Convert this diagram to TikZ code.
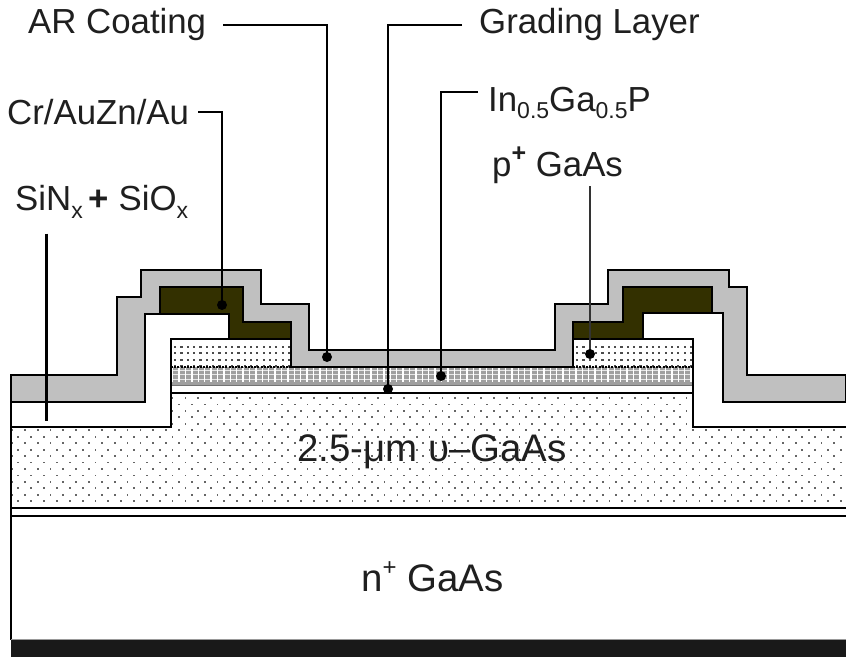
\documentclass[tikz,border=0pt]{standalone}
\usepackage{fontspec}
\setmainfont{Liberation Sans}
\newcommand{\lowtxt}[1]{\raisebox{-0.22em}{\fontsize{23}{25}\selectfont #1}}
\newcommand{\hightxt}[1]{\raisebox{0.42em}{\fontsize{25}{25}\selectfont\bfseries #1}}
\definecolor{metal}{HTML}{333000}
\definecolor{coat}{HTML}{C0C0C0}
\tikzset{
  outline/.style={draw=black,line width=1.8pt,line join=miter},
  coatfill/.style={outline,fill=coat},
  metalfill/.style={outline,fill=metal},
  lab/.style={inner sep=0pt,anchor=west,font=\fontsize{34.8}{38}\selectfont,text=black!88},
  biglab/.style={lab,font=\fontsize{38.4}{42}\selectfont},
  leader/.style={draw=black,line width=2.4pt},
  thinleader/.style={draw=black!80,line width=1.2pt},
  tipdot/.style={fill=black,draw=none}
}
\begin{document}
\begin{tikzpicture}[x=1pt,y=-1pt]
\useasboundingbox[fill=white] (0,0) rectangle (846,658);
% coordinates of the leader ends
\coordinate (arDot) at (327,357);
\coordinate (gradDot) at (388,389);
\coordinate (inDot) at (441,376);
\coordinate (crDot) at (222,305);
\coordinate (sinEnd) at (46.5,421);
\coordinate (pDot) at (590,354);

% substrate
\fill[white] (11,393) rectangle (846,640);
% dotted u-GaAs
\begin{scope}
  \clip (171,393) -- (693,393) -- (693,427) -- (846,427) -- (846,508) -- (11,508) -- (11,427) -- (171,427) -- cycle;
  \foreach \r in {0,...,18} {
    \pgfmathsetmacro{\yy}{398+6.45*\r}
    \pgfmathsetmacro{\off}{mod(\r,2)*6.4}
    \foreach \c in {0,...,65} {
      \pgfmathsetmacro{\xx}{5.5+\off+12.85*\c}
      \fill[black!60] (\xx-0.9,\yy-0.9) rectangle (\xx+0.9,\yy+0.9);
    }
  }
\end{scope}
\draw[black,line width=1.6pt] (171,393) -- (693,393);
\draw[black,line width=1.6pt] (11,508) -- (846,508);
\draw[black,line width=1.6pt] (11,516) -- (846,516);
\draw[black,line width=1.8pt] (11,427) -- (11,640);
\fill[black!90] (11,640) rectangle (846,657);
\draw[black!40,line width=1pt] (11,639.5) -- (846,639.5);

% grading layer band (hatch)
\fill[gray!75] (171,367) rectangle (693,385);
\begin{scope}
  \clip (171,368) rectangle (693,382);
  \foreach \c in {0,...,81} {
    \fill[white] (172+6.4*\c,367) rectangle (173.4+6.4*\c,382);
  }
  \foreach \r in {0,1,2} {
    \fill[white,opacity=.75] (171,370+4.4*\r) rectangle (693,371+4.4*\r);
  }
\end{scope}
\draw[black!55,line width=1pt] (171,385) -- (693,385);

% p+ GaAs caps
\foreach \xs in {171,573} {
  \fill[white] (\xs,339) rectangle (\xs+120,367);
  \foreach \r in {0,1,2,3} {
    \foreach \c in {0,...,18} {
      \fill[black!70] (\xs+3+6.33*\c,346+6.4*\r) rectangle (\xs+5.2+6.33*\c,347.8+6.4*\r);
    }
  }
}
\draw[black,line width=1.2pt,dash pattern=on 2pt off 1.2pt] (171,367) -- (291,367);
\draw[black,line width=1.2pt,dash pattern=on 2pt off 1.2pt] (573,367) -- (693,367);

% SiN/SiO left and right
\path[outline,fill=white] (11,402) -- (145,402) -- (145,314) -- (229,314) -- (229,339) -- (171,339) -- (171,427) -- (11,427) -- cycle;
\path[outline,fill=white] (846,402) -- (723,402) -- (723,313) -- (643,313) -- (643,339) -- (693,339) -- (693,427) -- (846,427);
\draw[outline] (291,339) -- (291,367);
\draw[outline] (573,339) -- (573,367);
\draw[outline] (171,339) -- (291,339);
\draw[outline] (573,339) -- (693,339);
\draw[outline] (693,339) -- (693,393);

% AR coating
\path[coatfill] (11,375) -- (117,375) -- (117,297) -- (141,297) -- (141,270) -- (261,270) -- (261,304) -- (309,304) -- (309,350) -- (555,350) -- (555,304) -- (608,304) -- (608,270) -- (729,270) -- (729,287) -- (747,287) -- (747,375) -- (846,375) -- (846,402) -- (723,402) -- (723,313) -- (712,313) -- (712,287) -- (623,287) -- (623,322) -- (573,322) -- (573,367) -- (291,367) -- (291,322) -- (243,322) -- (243,287) -- (160,287) -- (160,314) -- (145,314) -- (145,402) -- (11,402) -- cycle;

% metal contacts
\path[metalfill] (160,287) -- (243,287) -- (243,322) -- (291,322) -- (291,339) -- (229,339) -- (229,314) -- (160,314) -- cycle;
\path[metalfill] (573,322) -- (623,322) -- (623,287) -- (712,287) -- (712,313) -- (643,313) -- (643,339) -- (573,339) -- cycle;

% labels
\node[lab] (ar) at (28,25) {AR Coating};
\node[lab] (grad) at (479,25) {Grading Layer};
\node[lab] (cr) at (7,112) {Cr/AuZn/Au};
\node[lab] (in) at (488,103) {In\lowtxt{0.5}Ga\lowtxt{0.5}P};
\node[lab] (sin) at (15,202) {SiN\lowtxt{x}\,\textbf{+} SiO\lowtxt{x}};
\node[lab] (pgaas) at (492,165) {p\hightxt{+} GaAs};
\node[biglab] (uga) at (297,452) {2.5-μm υ–GaAs};
\node[biglab] (nga) at (361,577) {n\raisebox{0.42em}{\fontsize{24}{24}\selectfont +} GaAs};

% leaders
\draw[leader] (ar.east) ++(17,0) -| (arDot);
\draw[leader] (grad.west) ++(-17,0) -| (gradDot);
\draw[leader] (cr.east) ++(9,0) -| (crDot);
\draw[leader] (in.west) ++(-10,-11) -| (inDot);
\draw[leader] (sin.south west) ++(31.5,15) -- (sinEnd);
\draw[thinleader] (pgaas.south west) ++(98,3) -- (pDot);
\foreach \d in {arDot,gradDot,inDot,crDot,pDot} \fill[tipdot] (\d) circle (5);
\end{tikzpicture}
\end{document}
